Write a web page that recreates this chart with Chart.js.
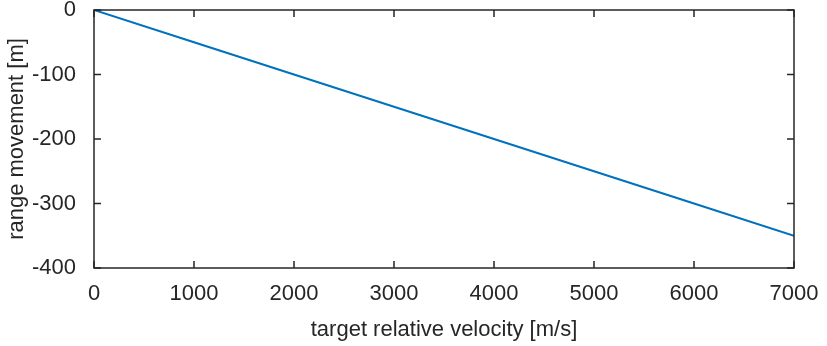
<!DOCTYPE html>
<html>
<head>
<meta charset="utf-8">
<script src="https://cdn.jsdelivr.net/npm/chart.js@4/dist/chart.umd.min.js"></script>
<style>
  html, body { margin: 0; padding: 0; background: #fff; }
  #wrap { width: 827px; height: 346px; }
</style>
</head>
<body>
<div id="wrap"><canvas id="c"></canvas></div>
<script>
// velocity samples [m/s] and resulting range movement [m]
const velocity = [0, 1000, 2000, 3000, 4000, 5000, 6000, 7000];
const rangeMove = [0, -50, -100, -150, -200, -250, -300, -350];
const xTicks = [0, 1000, 2000, 3000, 4000, 5000, 6000, 7000];
const yTicks = [0, -100, -200, -300, -400];

const axisColor = '#262626';
const font = { family: '"Liberation Sans", Arial, sans-serif', size: 22 };

// box around the axes with inward tick marks on all four sides
const boxPlugin = {
    id: 'box',
    afterDraw(chart) {
        const { ctx, chartArea: a, scales } = chart;
        const len = 7;
        ctx.save();
        ctx.strokeStyle = axisColor;
        ctx.lineWidth = 1.5;
        ctx.strokeRect(a.left, a.top, a.right - a.left, a.bottom - a.top);
        ctx.beginPath();
        xTicks.forEach(v => {
            const x = scales.x.getPixelForValue(v);
            ctx.moveTo(x, a.bottom); ctx.lineTo(x, a.bottom - len);
            ctx.moveTo(x, a.top); ctx.lineTo(x, a.top + len);
        });
        yTicks.forEach(v => {
            const y = scales.y.getPixelForValue(v);
            ctx.moveTo(a.left, y); ctx.lineTo(a.left + len, y);
            ctx.moveTo(a.right, y); ctx.lineTo(a.right - len, y);
        });
        ctx.stroke();
        ctx.restore();
    }
};

// fixed scale sizes so the plot box lands where it should
function fixX(s) {
    s.height = 78;
    s.paddingLeft = s.paddingRight = 0;
}
function fixY(s) {
    s.width = 94;
    s.paddingTop = s.paddingBottom = 0;
}

new Chart(document.getElementById('c'), {
    type: 'scatter',
    data: {
        datasets: [{
            data: velocity.map((v, i) => ({ x: v, y: rangeMove[i] })),
            showLine: true,
            borderColor: '#0072BD',
            borderWidth: 2,
            pointRadius: 0,
            fill: false
        }]
    },
    options: {
        responsive: true,
        maintainAspectRatio: false,
        animation: false,
        layout: { padding: { top: 10, right: 33, left: 0, bottom: 0 } },
        plugins: { legend: { display: false }, tooltip: { enabled: false } },
        scales: {
            x: {
                type: 'linear', min: 0, max: 7000,
                afterBuildTicks: s => { s.ticks = xTicks.map(v => ({ value: v })); },
                afterFit: fixX,
                grid: { display: false },
                border: { display: false },
                ticks: { color: axisColor, font, padding: 5, maxRotation: 0, autoSkip: false, callback: v => String(v) },
                title: { display: true, text: 'target relative velocity [m/s]', color: axisColor, font, padding: { top: 0, bottom: 3 } }
            },
            y: {
                min: -400, max: 0,
                afterBuildTicks: s => { s.ticks = yTicks.map(v => ({ value: v })); },
                afterFit: fixY,
                grid: { display: false },
                border: { display: false },
                ticks: { color: axisColor, font, padding: 10, autoSkip: false, callback: v => String(v) },
                title: { display: true, text: 'range movement [m]', color: axisColor, font, padding: { top: 4, bottom: 0 } }
            }
        }
    },
    plugins: [boxPlugin]
});
</script>
</body>
</html>
